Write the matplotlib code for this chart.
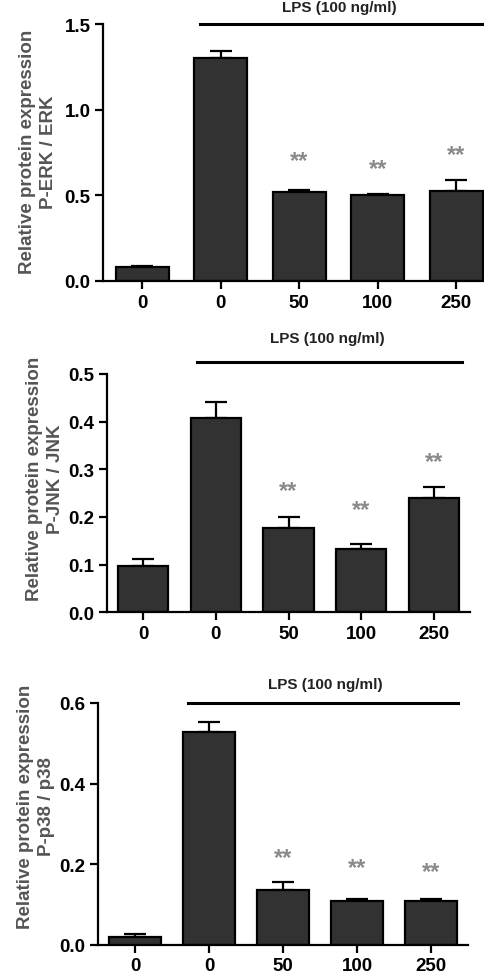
import numpy as np
import matplotlib
matplotlib.use("Agg")
import matplotlib.pyplot as plt

plt.rcParams['font.family'] = ['Liberation Sans', 'DejaVu Sans']
plt.rcParams['font.weight'] = 'bold'

# datos
doses = ['0', '0', '50', '100', '250']

erk_mean = [0.08, 1.30, 0.52, 0.50, 0.527]
erk_err = [0.005, 0.045, 0.012, 0.01, 0.06]
erk_star = [None, None, 0.72, 0.67, 0.75]

jnk_mean = [0.097, 0.408, 0.177, 0.133, 0.240]
jnk_err = [0.015, 0.034, 0.024, 0.01, 0.023]
jnk_star = [None, None, 0.26, 0.22, 0.322]

p38_mean = [0.019, 0.529, 0.137, 0.110, 0.110]
p38_err = [0.008, 0.025, 0.02, 0.003, 0.003]
p38_star = [None, None, 0.223, 0.198, 0.188]

W, H = 485, 979
fig = plt.figure(figsize=(W / 100, H / 100), dpi=100)

bar_color = '#323232'
star_color = '#8a8a8a'
label_color = '#555555'


def panel(rect, mean, err, star, ymax, yticks, ylabel, label_xy,
          lps_y, lps_x, lps_text_xy, width):
    l, t, r, b = rect
    ax = fig.add_axes([l / W, 1 - b / H, (r - l) / W, (b - t) / H])
    x = np.arange(len(mean))
    ax.bar(x, mean, width=width, color=bar_color, edgecolor='black',
           linewidth=1.6, zorder=2)
    ax.errorbar(x, mean, yerr=[np.zeros(len(err)), err], fmt='none',
                ecolor='black', elinewidth=1.6, capsize=8, capthick=1.6,
                zorder=1)
    for xi, s in zip(x, star):
        if s is not None:
            ax.text(xi, s, '**', color=star_color, fontsize=17,
                    ha='center', va='center_baseline', fontweight='bold')
    ax.set_xlim(-0.5, 4.5)
    ax.set_ylim(0, ymax)
    ax.set_yticks(yticks)
    ax.set_yticklabels(['%.1f' % v for v in yticks])
    ax.set_xticks(x)
    ax.set_xticklabels(doses)
    ax.tick_params(labelsize=13.5, width=1.6, length=6, pad=3)
    for sp in ['top', 'right']:
        ax.spines[sp].set_visible(False)
    for sp in ['left', 'bottom']:
        ax.spines[sp].set_linewidth(1.6)
    # linea LPS
    ax.plot(lps_x, [lps_y, lps_y], color='black', linewidth=2.2,
            clip_on=False)
    ax.text(lps_text_xy[0], lps_text_xy[1], 'LPS (100 ng/ml)', ha='center',
            va='center', fontsize=11, color='#222222', fontweight='bold')
    fig.text(label_xy[0] / W, 1 - label_xy[1] / H, ylabel, rotation=90,
             ha='center', va='center', fontsize=13.5, color=label_color,
             fontweight='bold', linespacing=1.25)
    return ax


# panel 1 (recortado a la derecha)
panel((103, 25, 103 + 5 * 78.5, 282), erk_mean, erk_err, erk_star, 1.5,
      [0.0, 0.5, 1.0, 1.5], 'Relative protein expression\nP-ERK / ERK',
      (38, 152), 1.5, [0.73, 4.6], (2.51, 1.598), 0.675)

panel((107, 375, 470, 613.3), jnk_mean, jnk_err, jnk_star, 0.5,
      [0.0, 0.1, 0.2, 0.3, 0.4, 0.5], 'Relative protein expression\nP-JNK / JNK',
      (45, 479), 0.525, [0.745, 4.39], (2.54, 0.5755), 0.69)

panel((98, 704, 468, 946), p38_mean, p38_err, p38_star, 0.6,
      [0.0, 0.2, 0.4, 0.6], 'Relative protein expression\nP-p38 / p38',
      (36, 807), 0.6, [0.72, 4.36], (2.57, 0.647), 0.70)

fig.savefig('out.png', dpi=100)
